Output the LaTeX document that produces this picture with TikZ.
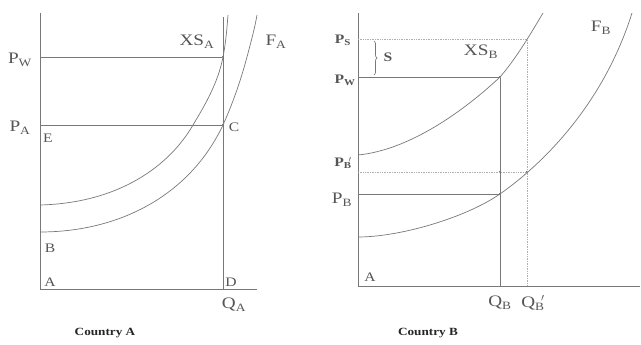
\documentclass[tikz,border=0pt]{standalone}
\usepackage{fontspec}
\setmainfont{Liberation Serif}[FakeStretch=1.2]
\usetikzlibrary{decorations.pathreplacing}
\definecolor{inkgray}{RGB}{120,120,120}
\definecolor{labgray}{RGB}{85,85,85}
\newcommand{\psub}[2]{#1\textsubscript{#2}}
\newcommand{\psubp}[2]{#1\textsubscript{#2}\llap{\textsuperscript{$\prime$}}}

\begin{document}
\begin{tikzpicture}[x=1pt, y=1pt,
  axis/.style={draw=inkgray, line width=0.8pt},
  level/.style={draw=inkgray, line width=0.8pt},
  guide/.style={draw=inkgray!60, line width=0.7pt, densely dotted},
  curve/.style={draw=inkgray, line width=0.7pt},
  lab/.style={text=labgray, font=\fontsize{16}{16}\selectfont, inner sep=0pt},
  pt/.style={text=labgray, font=\fontsize{13}{13}\selectfont, inner sep=0pt},
  boldlab/.style={text=labgray, font=\fontsize{13}{13}\selectfont\bfseries, inner sep=0pt},
  countrycap/.style={text=black!85, font=\fontsize{11}{11}\selectfont\bfseries, inner sep=0pt},
  dot/.style={circle, fill=black!70, inner sep=0pt, minimum size=2pt}
  ]
\useasboundingbox (0,0) rectangle (641,345);

% Country A
\coordinate (oA) at (40,56);
\coordinate (topA) at (40,332);
\coordinate (endA) at (257,56);
\coordinate (dA) at (223,56);
\coordinate (dtopA) at (223,328);
\node[dot] (wA) at (223,288) {};
\node[dot] (cA) at (223,220) {};
\coordinate (pwA) at (40,288);
\coordinate (paA) at (40,220);

\draw[axis] (topA) -- (oA) -- (endA);
\draw[level] (dtopA) -- (dA);
\draw[level] (pwA) -- (wA);
\draw[level] (paA) -- (cA);

% XS_A and F_A
\draw[curve] (40,140) .. controls (120,142) and (170,180) .. (193,220)
  .. controls (205,240) and (218,262) .. (wA.center)
  .. controls (226,303) and (227,318) .. (228,330);
\draw[curve] (40,113) .. controls (120,113) and (190,150) .. (cA.center)
  .. controls (232,240) and (240,262) .. (247,288)
  .. controls (251,303) and (255,318) .. (257,330);

\node[lab] (lpwA) at (20,285) {\psub{P}{W}};
\node[lab] (lpaA) at (20,217) {\psub{P}{A}};
\node[pt] (lE) at (48,207) {E};
\node[pt] (lB) at (50,97) {B};
\node[pt] (lA) at (50,63) {A};
\node[pt] (lD) at (231,63) {D};
\node[pt] (lC) at (234,218) {C};
\node[lab] (lqA) at (234,40) {\psub{Q}{A}};
\node[lab] (lxsA) at (197,303) {\psub{XS}{A}};
\node[lab] (lfA) at (276,303) {\psub{F}{A}};
\node[countrycap] (capA) at (105,12) {Country A};

% Country B
\coordinate (oB) at (358,59);
\coordinate (topB) at (358,332);
\coordinate (endB) at (640,59);
\coordinate (psB) at (358,306);
\coordinate (pwB) at (358,268);
\coordinate (pbpB) at (358,173);
\coordinate (pbB) at (358,151);
\coordinate (qB) at (500,59);
\coordinate (qpB) at (527,59);
\coordinate (sB) at (527,306);
\node[dot] (wB) at (500,268) {};
\node[dot] (bB) at (500,151) {};
\node[dot] (mB) at (500,173) {};
\node[dot] (bpB) at (527,173) {};

\draw[axis] (topB) -- (oB) -- (endB);
\draw[guide] (psB) -- (sB) -- (qpB);
\draw[guide] (pbpB) -- (bpB);
\draw[level] (pwB) -- (wB) -- (qB);
\draw[level] (pbB) -- (bB);

% XS_B and F_B
\draw[curve] (358,190) .. controls (410,195) and (465,235) .. (wB.center)
  .. controls (515,285) and (530,310) .. (543,332);
\draw[curve] (358,108) .. controls (400,108) and (465,127) .. (bB.center)
  .. controls (530,172) and (600,230) .. (632,332);

\draw[inkgray, line width=0.7pt, decorate, decoration={brace, amplitude=3pt}]
  (374,304) -- (374,270);

\node[boldlab] (lpsB) at (343,305) {\psub{P}{S}};
\node[boldlab] (lsB) at (388,288) {S};
\node[boldlab] (lpwB) at (345,265) {\psub{P}{W}};
\node[lab] (lxsB) at (481,293) {\psub{XS}{B}};
\node[lab] (lfB) at (601,317) {\psub{F}{B}};
\node[boldlab] (lpbpB) at (343,182) {\psubp{P}{B}};
\node[lab] (lpbB) at (342,145) {\psub{P}{B}};
\node[pt] (lAB) at (370,68) {A};
\node[lab] (lqB) at (500,42) {\psub{Q}{B}};
\node[lab] (lqpB) at (533,42) {\psubp{Q}{B}};
\node[countrycap] (capB) at (428,12) {Country B};
\end{tikzpicture}
\end{document}
